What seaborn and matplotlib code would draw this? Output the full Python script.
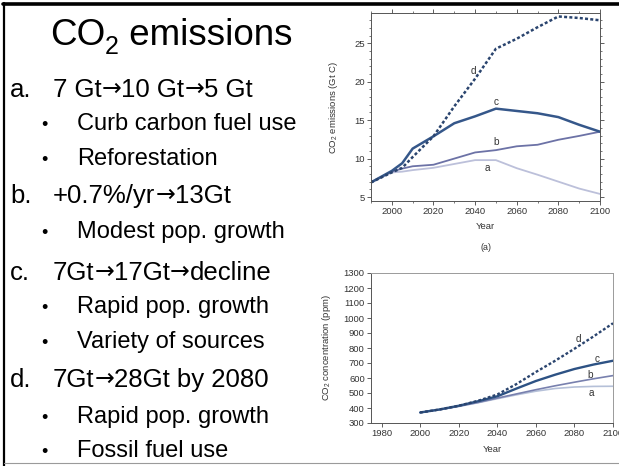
import matplotlib
matplotlib.use("Agg")
import matplotlib.pyplot as plt
from matplotlib.lines import Line2D
from matplotlib.ticker import MultipleLocator
import pandas as pd
import seaborn as sns

# ---- emission scenarios (Gt C per year) ----
emis_years = [1990, 2000, 2005, 2010, 2020, 2030, 2040, 2050, 2060, 2070, 2080, 2090, 2100]
emis_a = [6.9, 8.2, 8.3, 8.5, 8.8, 9.3, 9.8, 9.8, 8.75, 7.9, 7.0, 6.1, 5.4]
emis_b = [6.9, 8.3, 8.7, 9.0, 9.2, 10.0, 10.8, 11.1, 11.6, 11.8, 12.45, 12.95, 13.5]
emis_c = [6.9, 8.4, 9.4, 11.3, 12.9, 14.6, 15.5, 16.5, 16.2, 15.9, 15.4, 14.4, 13.5]
emis_d = [6.9, 8.2, 8.8, 10.2, 12.9, 16.8, 20.4, 24.3, 25.6, 27.1, 28.5, 28.3, 28.0]

# ---- resulting atmospheric concentration (ppm) ----
conc_years = [2000, 2010, 2020, 2030, 2040, 2050, 2060, 2070, 2080, 2090, 2100]
conc_a = [370, 388, 410, 435, 462, 488, 512, 530, 540, 544, 545]
conc_b = [370, 389, 412, 437, 466, 494, 522, 548, 572, 595, 616]
conc_c = [370, 390, 415, 445, 478, 530, 580, 622, 660, 690, 715]
conc_d = [370, 390, 415, 448, 490, 560, 640, 715, 795, 878, 965]

scenarios = ["a", "b", "c", "d"]

# ---- slide text ----
ARROW = "\u2192"
outline = [
    ("a.", "7 Gt\u219210 Gt\u21925 Gt", ["Curb carbon fuel use", "Reforestation"]),
    ("b.", "+0.7%/yr\u219213Gt", ["Modest pop. growth"]),
    ("c.", "7Gt\u219217Gt\u2192decline", ["Rapid pop. growth", "Variety of sources"]),
    ("d.", "7Gt\u219228Gt by 2080", ["Rapid pop. growth", "Fossil fuel use"]),
]

sns.set_style("ticks")
plt.rcParams["font.family"] = ["Liberation Sans", "DejaVu Sans"]
plt.rcParams["mathtext.fontset"] = "custom"
plt.rcParams["mathtext.rm"] = "Liberation Sans"
plt.rcParams["mathtext.default"] = "regular"

W, H = 619, 466
fig = plt.figure(figsize=(W / 100, H / 100), dpi=100)
fig.patch.set_facecolor("white")
renderer = fig.canvas.get_renderer()


def fx(px):
    return px / W


def fy(py):
    return 1 - py / H


def run_text(x_px, y_px, runs):
    """Draw consecutive text runs along one baseline; each run is
    (text, fontsize, family, baseline shift in px)."""
    x = x_px
    for txt, size, family, dy in runs:
        t = fig.text(fx(x), fy(y_px + dy), txt, fontsize=size, family=family,
                     color="black", ha="left", va="baseline")
        x += t.get_window_extent(renderer).width
    return x


def arrow_runs(s, size):
    runs = []
    pieces = s.split(ARROW)
    for i, p in enumerate(pieces):
        if p:
            runs.append((p, size, "Liberation Sans", 0))
        if i < len(pieces) - 1:
            runs.append((ARROW, size * 0.92, "DejaVu Sans", -1))
    return runs


top_colors = {"a": "#bcc0da", "b": "#6c72a6", "c": "#35578a", "d": "#2a446e"}
bot_colors = {"a": "#b5c0d8", "b": "#7880ae", "c": "#2d5284", "d": "#2a446e"}
tick_col = "#444444"


def style_axes(ax, fs=6.8):
    ax.tick_params(labelsize=fs, colors=tick_col, labelcolor="#333333",
                   width=0.6, length=3, pad=1.5)
    ax.tick_params(which="minor", width=0.5, length=1.6, colors=tick_col)
    for s in ax.spines.values():
        s.set_linewidth(0.7)
        s.set_color("#555555")


# ---- top panel: emissions ----
emis = pd.DataFrame({"Year": emis_years, "a": emis_a, "b": emis_b,
                     "c": emis_c, "d": emis_d})
emis_long = emis.melt(id_vars="Year", var_name="scenario", value_name="value")

ax1 = fig.add_axes([fx(371), fy(201), fx(600) - fx(371), fy(13) - fy(201)])
for s in scenarios:
    sub = emis_long[emis_long["scenario"] == s]
    sns.lineplot(data=sub, x="Year", y="value", ax=ax1, color=top_colors[s],
                 linewidth=1.8 if s in "cd" else 1.3,
                 linestyle=(0, (1.2, 0.9)) if s == "d" else "-",
                 legend=False)
ax1.set_xlim(1990, 2100)
ax1.set_ylim(4.48, 28.95)
ax1.xaxis.set_major_locator(MultipleLocator(20))
ax1.xaxis.set_minor_locator(MultipleLocator(10))
ax1.yaxis.set_major_locator(MultipleLocator(5))
ax1.yaxis.set_minor_locator(MultipleLocator(1))
ax1.set_xticks([2000, 2020, 2040, 2060, 2080, 2100])
ax1.tick_params(which="both", top=True, right=True, labeltop=False, labelright=False)
style_axes(ax1)
ax1.set_xlabel("Year", fontsize=6.8, color="#333333", labelpad=4)
ax1.set_ylabel("CO$_2$ emissions (Gt C)", fontsize=6.8, color="#333333", labelpad=10)
for s, (xx, yy) in zip(scenarios, [(2046, 8.8), (2050, 12.1), (2050, 17.4), (2039, 21.4)]):
    ax1.text(xx, yy, s, fontsize=7.2, color="#333333", ha="center", va="center")
fig.text(fx(486), fy(248), "(a)", fontsize=6.4, color="#333333", ha="center", va="center")

# ---- bottom panel: concentration ----
conc = pd.DataFrame({"Year": conc_years, "a": conc_a, "b": conc_b,
                     "c": conc_c, "d": conc_d})
conc_long = conc.melt(id_vars="Year", var_name="scenario", value_name="value")

ax2 = fig.add_axes([fx(371), fy(423), fx(613) - fx(371), fy(273) - fy(423)])
for s in scenarios:
    sub = conc_long[conc_long["scenario"] == s]
    sns.lineplot(data=sub, x="Year", y="value", ax=ax2, color=bot_colors[s],
                 linewidth=1.7 if s in "cd" else 1.2,
                 linestyle=(0, (1.2, 0.9)) if s == "d" else "-",
                 legend=False)
ax2.set_xlim(1974.5, 2100)
ax2.set_ylim(300, 1300)
ax2.set_xticks([1980, 2000, 2020, 2040, 2060, 2080, 2100])
ax2.set_yticks(list(range(300, 1301, 100)))
style_axes(ax2)
ax2.spines["top"].set_color("#9a9a9a")
ax2.spines["right"].set_color("#9a9a9a")
ax2.set_xlabel("Year", fontsize=6.8, color="#333333", labelpad=5)
ax2.set_ylabel("CO$_2$ concentration (ppm)", fontsize=6.8, color="#333333", labelpad=8)
for s, (xx, yy) in zip(scenarios, [(2089, 500), (2088, 622), (2092, 729), (2082, 862)]):
    ax2.text(xx, yy, s, fontsize=7.2, color="#333333", ha="center", va="center")

# ---- slide text on the left ----
run_text(50, 45, [("CO", 26.5, "Liberation Sans", 0),
                  ("2", 18, "Liberation Sans", 9),
                  (" emissions", 26.5, "Liberation Sans", 0)])
baselines = iter([97, 130, 165, 203, 238, 280, 313, 348, 387, 423, 457])
for letter, head, bullets in outline:
    yb = next(baselines)
    fig.text(fx(10), fy(yb), letter, fontsize=18.5, color="black", va="baseline")
    run_text(53, yb, arrow_runs(head, 18.5))
    for item in bullets:
        yb = next(baselines)
        fig.text(fx(41), fy(yb), "\u2022", fontsize=13, color="black", va="baseline")
        fig.text(fx(77), fy(yb), item, fontsize=17, color="black", va="baseline")

# ---- slide frame ----
fig.add_artist(Line2D([fx(3), 1], [fy(4), fy(4)], color="black", linewidth=2.6,
                      transform=fig.transFigure))
fig.add_artist(Line2D([fx(4), fx(4)], [fy(3), fy(466)], color="black", linewidth=1.6,
                      transform=fig.transFigure))
fig.add_artist(Line2D([fx(4), 1], [fy(463), fy(463)], color="#9a9a9a", linewidth=0.8,
                      transform=fig.transFigure))

fig.savefig("out.png", dpi=100, facecolor="white")
